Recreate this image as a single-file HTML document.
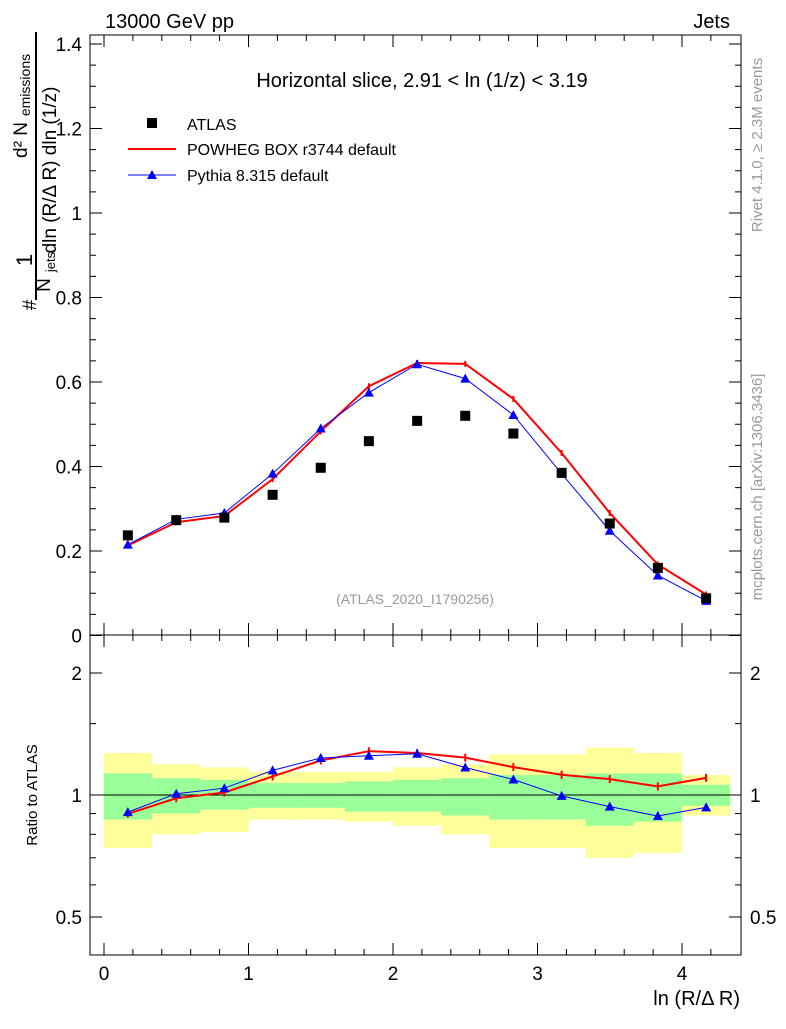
<!DOCTYPE html>
<html><head><meta charset="utf-8"><style>
body{margin:0;background:#fff}
svg text{font-family:"Liberation Sans",sans-serif}
</style></head><body>
<svg id="c" width="786" height="1024" xmlns="http://www.w3.org/2000/svg"></svg>
<script>
const xCenters=[0.165,0.5,0.833,1.167,1.5,1.833,2.167,2.5,2.833,3.167,3.5,3.833,4.167];
const atlasVals=[0.237,0.273,0.279,0.333,0.397,0.460,0.508,0.520,0.478,0.385,0.265,0.160,0.088];
const powhegVals=[0.213,0.268,0.283,0.370,0.483,0.590,0.645,0.643,0.560,0.432,0.290,0.168,0.097];
const pythiaVals=[0.215,0.275,0.290,0.383,0.490,0.575,0.642,0.608,0.522,0.383,0.248,0.142,0.082];
const yellowHi=[1.27,1.19,1.17,1.14,1.14,1.14,1.17,1.19,1.26,1.26,1.31,1.27,1.12];
const yellowLo=[0.74,0.80,0.81,0.87,0.87,0.86,0.84,0.80,0.74,0.74,0.70,0.72,0.89];
const greenHi=[1.13,1.10,1.09,1.07,1.07,1.08,1.09,1.10,1.12,1.12,1.13,1.13,1.06];
const greenLo=[0.87,0.90,0.92,0.93,0.93,0.91,0.91,0.89,0.87,0.87,0.84,0.86,0.94];
const mainTicks=["0","0.2","0.4","0.6","0.8","1","1.2","1.4"];
const xTicks=["0","1","2","3","4"];
const ratioTicks=["0.5","1","2"];

const NS="http://www.w3.org/2000/svg",svg=document.getElementById('c');
const L=90,R=741,T=35,M=635,B=955;
const X=v=>104+(v)*144.5;
const Y=v=>635.5-v*422.5;
const YR=r=>795-122*Math.log2(r);
function el(t,a,txt,name){const e=document.createElementNS(NS,t);for(const k in a)e.setAttribute(k,a[k]);if(txt!==undefined)e.textContent=txt;
svg.appendChild(e);return e;}
xCenters.forEach((c,i)=>{const x0=X(c-0.1667),x1=X(c+0.1667);
el('rect',{x:x0,y:YR(yellowHi[i]),width:x1-x0,height:YR(yellowLo[i])-YR(yellowHi[i]),fill:'#ffff99'},undefined,'syst-band');
el('rect',{x:x0,y:YR(greenHi[i]),width:x1-x0,height:YR(greenLo[i])-YR(greenHi[i]),fill:'#99ff99'},undefined,'stat-band');});
el('line',{x1:L,x2:R,y1:YR(1),y2:YR(1),stroke:'#000'},undefined,'ratio-unity-line');
el('rect',{x:L,y:T,width:R-L,height:M-T,fill:'none',stroke:'#000'},undefined,'main-frame');
el('rect',{x:L,y:M,width:R-L,height:B-M,fill:'none',stroke:'#000'},undefined,'ratio-frame');
for(let v=0;v<=4.4;v+=0.2){const maj=Math.abs(v-Math.round(v))<1e-6,len=maj?12:6;const x=X(v);
[[M,-1],[T,1],[B,-1],[M,1]].forEach(([y,d])=>el('line',{x1:x,x2:x,y1:y,y2:y+d*len,stroke:'#000'},undefined,'x-tick'));}
xTicks.forEach(t=>el('text',{x:X(+t),y:980,'font-size':19,'text-anchor':'middle'},t,'x-tick-label'));
for(let v=0;v<=1.42;v+=0.05){const maj=Math.abs(v/0.2-Math.round(v/0.2))<1e-6,len=maj?12:6,y=Y(v);
el('line',{x1:L,x2:L+len,y1:y,y2:y,stroke:'#000'},undefined,'y-tick');el('line',{x1:R,x2:R-len,y1:y,y2:y,stroke:'#000'},undefined,'y-tick');}
mainTicks.forEach(t=>el('text',{x:82,y:Y(+t)+7,'font-size':19,'text-anchor':'end'},t,'y-tick-label'));
[0.5,0.6,0.7,0.8,0.9,1,1.5,2].forEach(r=>{const len=[0.5,1,2].includes(r)?12:6,y=YR(r);
el('line',{x1:L,x2:L+len,y1:y,y2:y,stroke:'#000'},undefined,'ratio-tick');el('line',{x1:R,x2:R-len,y1:y,y2:y,stroke:'#000'},undefined,'ratio-tick');});
ratioTicks.forEach(t=>{el('text',{x:82,y:YR(+t)+7,'font-size':19,'text-anchor':'end'},t,'ratio-tick-label');
el('text',{x:750,y:YR(+t)+7,'font-size':19},t,'ratio-tick-label-right');});
function line(vals,yf,col,w,name){el('polyline',{points:xCenters.map((c,i)=>X(c)+','+yf(vals[i])).join(' '),fill:'none',stroke:col,'stroke-width':w},undefined,name);}
line(powhegVals,Y,'#f00',2,'powheg-line');
powhegVals.forEach((v,i)=>el('line',{x1:X(xCenters[i]),x2:X(xCenters[i]),y1:Y(v)-3,y2:Y(v)+3,stroke:'#f00','stroke-width':2},undefined,'powheg-errorbar'));
line(pythiaVals,Y,'#00f',1,'pythia-line');
const tri=(x,y)=>`${x},${y-5} ${x-5},${y+4} ${x+5},${y+4}`;
pythiaVals.forEach((v,i)=>el('polygon',{points:tri(X(xCenters[i]),Y(v)),fill:'#00f'},undefined,'pythia-marker'));
atlasVals.forEach((v,i)=>el('rect',{x:X(xCenters[i])-5,y:Y(v)-5,width:10,height:10,fill:'#000'},undefined,'atlas-marker'));
const pr=powhegVals.map((v,i)=>v/atlasVals[i]),yr=pythiaVals.map((v,i)=>v/atlasVals[i]);
line(pr,YR,'#f00',2,'powheg-ratio-line');
pr.forEach((v,i)=>el('line',{x1:X(xCenters[i]),x2:X(xCenters[i]),y1:YR(v)-4,y2:YR(v)+4,stroke:'#f00','stroke-width':2},undefined,'powheg-ratio-errorbar'));
line(yr,YR,'#00f',1,'pythia-ratio-line');
yr.forEach((v,i)=>el('polygon',{points:tri(X(xCenters[i]),YR(v)),fill:'#00f'},undefined,'pythia-ratio-marker'));
el('text',{x:105,y:28,'font-size':20},'13000 GeV pp','energy-label');
el('text',{x:730,y:28,'font-size':20,'text-anchor':'end'},'Jets','process-label');
el('text',{x:422,y:87,'font-size':20,'text-anchor':'middle'},'Horizontal slice, 2.91 < ln (1/z) < 3.19','plot-title');
el('rect',{x:147,y:118,width:10,height:10,fill:'#000'},undefined,'legend-atlas-marker');
el('text',{x:187,y:130,'font-size':16},'ATLAS','legend-atlas-label');
el('line',{x1:128,x2:176,y1:149,y2:149,stroke:'#f00','stroke-width':2},undefined,'legend-powheg-line');
el('text',{x:187,y:155,'font-size':16},'POWHEG BOX r3744 default','legend-powheg-label');
el('line',{x1:128,x2:176,y1:175,y2:175,stroke:'#00f'},undefined,'legend-pythia-line');
el('polygon',{points:tri(152,175),fill:'#00f'},undefined,'legend-pythia-marker');
el('text',{x:187,y:181,'font-size':16},'Pythia 8.315 default','legend-pythia-label');
el('text',{x:415,y:604,'font-size':14,fill:'#999','text-anchor':'middle'},'(ATLAS_2020_I1790256)','analysis-id');
el('text',{x:740,y:1005,'font-size':20,'text-anchor':'end'},'ln (R/Δ R)','x-axis-title');
el('text',{x:0,y:0,'font-size':15,'text-anchor':'middle',transform:'translate(37,795) rotate(-90)'},'Ratio to ATLAS','ratio-axis-title');
// y-axis title as rotated fractions
el('text',{x:0,y:0,'font-size':19,'text-anchor':'middle',transform:'translate(56,170) rotate(-90)'},'dln (R/Δ R) dln (1/z)','y-axis-title-denominator');
el('line',{x1:36,x2:36,y1:32,y2:300,stroke:'#000','stroke-width':2},undefined,'y-axis-title-fraction-bar');
el('text',{x:0,y:0,'font-size':19,'text-anchor':'middle',transform:'translate(27,140) rotate(-90)'},'d² N','y-axis-title-numerator');
el('text',{x:0,y:0,'font-size':14,'text-anchor':'middle',transform:'translate(30,85) rotate(-90)'},'emissions','y-axis-title-numerator-sub');
el('text',{x:0,y:0,'font-size':22,'text-anchor':'middle',transform:'translate(32,260) rotate(-90)'},'1','y-axis-title-norm-num');
el('line',{x1:36,x2:36,y1:245,y2:300,stroke:'#000','stroke-width':2},undefined,'y-axis-title-norm-bar');
el('text',{x:0,y:0,'font-size':19,'text-anchor':'middle',transform:'translate(50,285) rotate(-90)'},'N','y-axis-title-norm-den');
el('text',{x:0,y:0,'font-size':13,'text-anchor':'middle',transform:'translate(55,262) rotate(-90)'},'jets','y-axis-title-norm-sub');
el('text',{x:0,y:0,'font-size':19,'text-anchor':'middle',transform:'translate(36,305) rotate(-90)'},'#','y-axis-title-hash');
el('text',{x:0,y:0,'font-size':15,fill:'#999','text-anchor':'middle',transform:'translate(762,145) rotate(-90)'},'Rivet 4.1.0, ≥ 2.3M events','rivet-label');
el('text',{x:0,y:0,'font-size':15,fill:'#999','text-anchor':'middle',transform:'translate(762,487) rotate(-90)'},'mcplots.cern.ch [arXiv:1306.3436]','mcplots-label');
</script></body></html>
